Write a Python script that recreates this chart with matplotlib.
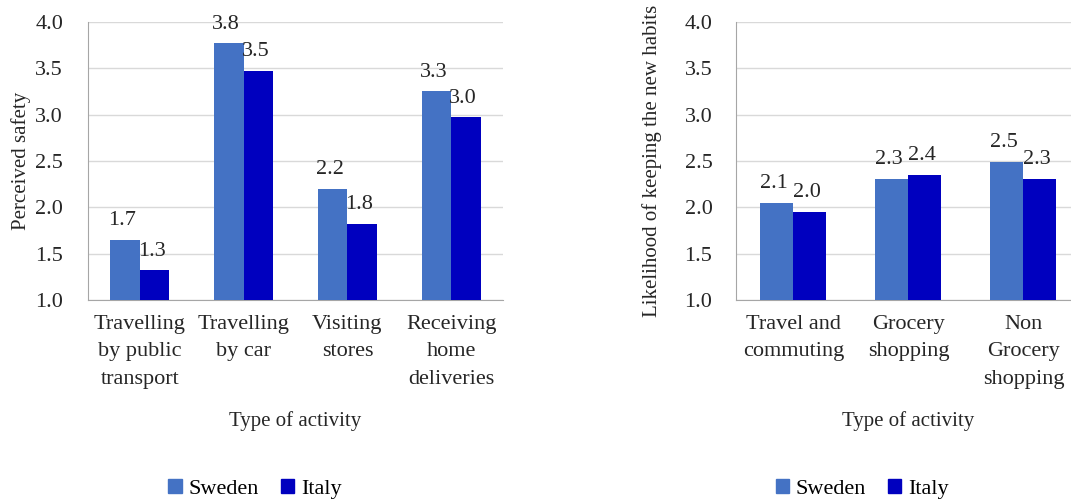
import numpy as np
import matplotlib
matplotlib.use('Agg')
import matplotlib.pyplot as plt
from matplotlib.patches import Patch
from decimal import Decimal, ROUND_HALF_UP

plt.rcParams['font.family'] = ['Liberation Serif', 'DejaVu Serif']
plt.rcParams['font.size'] = 16

# left panel: perceived safety
safety_cats = ['Travelling\nby public\ntransport', 'Travelling\nby car', 'Visiting\nstores', 'Receiving\nhome\ndeliveries']
safety_sweden = [1.65, 3.77, 2.20, 3.25]
safety_italy = [1.32, 3.47, 1.82, 2.97]

# right panel: likelihood of keeping the new habits
habit_cats = ['Travel and\ncommuting', 'Grocery\nshopping', 'Non\nGrocery\nshopping']
habit_sweden = [2.05, 2.31, 2.49]
habit_italy = [1.95, 2.35, 2.31]

yticks = [1.0, 1.5, 2.0, 2.5, 3.0, 3.5, 4.0]

c_sweden = '#4472C4'
c_italy = '#0000BF'
grid_c = '#D9D9D9'
txt_c = '#262626'


def fmt(v):
    # excel style rounding (half up)
    return str(Decimal(str(v)).quantize(Decimal('0.1'), rounding=ROUND_HALF_UP))


fig = plt.figure(figsize=(10.71, 5.0), dpi=100)
ax1 = fig.add_axes([0.0822, 0.40, 0.3875, 0.556])
ax2 = fig.add_axes([0.6872, 0.40, 0.3221, 0.556])


def draw(ax, cats, sw, it, ylabel, w, ypad, lpad):
    x = np.arange(len(cats))
    b1 = ax.bar(x - w / 2, sw, w, color=c_sweden, zorder=3)
    b2 = ax.bar(x + w / 2, it, w, color=c_italy, zorder=3)
    for bars, vals in ((b1, sw), (b2, it)):
        for b, v in zip(bars, vals):
            ax.annotate(fmt(v), (b.get_x() + b.get_width() / 2, v),
                        xytext=(-2, 7), textcoords='offset points',
                        ha='center', va='bottom', fontsize=16, color=txt_c)
    ax.set_ylim(1.0, 4.0)
    ax.set_xlim(-0.5, len(cats) - 0.5)
    ax.set_yticks(yticks)
    ax.set_yticklabels(['%.1f' % t for t in yticks])
    ax.set_xticks(x)
    ax.set_xticklabels(cats, linespacing=1.58)
    ax.tick_params(length=0, colors=txt_c)
    ax.tick_params(axis='y', pad=ypad)
    ax.tick_params(axis='x', pad=11)
    ax.yaxis.grid(True, color=grid_c, lw=1, zorder=0)
    for s in ('top', 'right'):
        ax.spines[s].set_visible(False)
    for s in ('left', 'bottom'):
        ax.spines[s].set_color('#A6A6A6')
    ax.set_ylabel(ylabel, color=txt_c, fontsize=15, labelpad=lpad)
    ax.set_xlabel('Type of activity', color=txt_c, fontsize=15, labelpad=16)


draw(ax1, safety_cats, safety_sweden, safety_italy, 'Perceived safety', 0.285, 18, 3)
draw(ax2, habit_cats, habit_sweden, habit_italy, 'Likelihood of keeping the new habits', 0.287, 17, 16)

handles = [Patch(color=c_sweden, label='Sweden'), Patch(color=c_italy, label='Italy')]
for cx in (0.238, 0.805):
    fig.legend(handles=handles, loc='center', bbox_to_anchor=(cx, 0.022), ncol=2,
               frameon=False, handlelength=0.6, handleheight=0.6, handletextpad=0.3,
               columnspacing=1.0, fontsize=16)

fig.savefig('out.png', dpi=100)
